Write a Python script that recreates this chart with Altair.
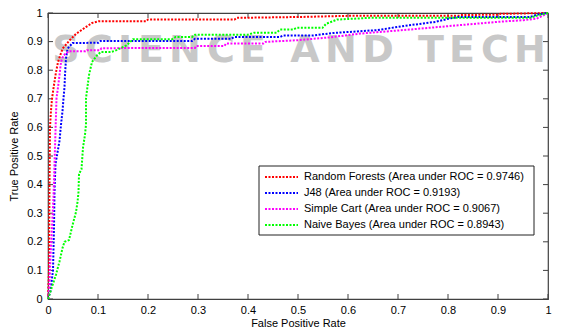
import altair as alt
import pandas as pd

FONT = "Liberation Sans"
BOX = "#404040"

series_names = [
    "Random Forests (Area under ROC = 0.9746)",
    "J48 (Area under ROC = 0.9193)",
    "Simple Cart (Area under ROC = 0.9067)",
    "Naive Bayes (Area under ROC = 0.8943)",
]
series_colors = ["#ff0000", "#0000ff", "#ff00ff", "#00ff00"]

rf_fpr = [0, .002, .003, .004, .006, .008, .011, .015, .020, .029, .043, .056, .075, .088, .101,
          .196, .200, .373, .378, .500, .600, .820, .825, .900, .905, 1.0]
rf_tpr = [0, .10, .40, .60, .66, .70, .737, .783, .829, .875, .904, .927, .950, .965, .971,
          .971, .977, .977, .983, .986, .990, .990, .993, .994, .997, 1.0]

j48_fpr = [0, .005, .010, .012, .013, .015, .023, .026, .029, .031, .033, .034, .036, .039, .049,
           .101, .105, .288, .294, .366, .372, .464, .470, .529, .569, .657, .722, .775, .801, .820,
           .964, .980, 1.0]
j48_tpr = [0, .028, .100, .250, .374, .472, .553, .610, .657, .702, .740, .783, .841, .875, .895,
           .896, .902, .902, .910, .910, .916, .916, .921, .921, .930, .940, .957, .969, .980, .986,
           .986, .995, 1.0]

cart_fpr = [0, .003, .005, .008, .011, .015, .017, .020, .023, .026, .031, .042, .075, .078, .104,
            .107, .294, .297, .353, .356, .431, .435, .500, .565, .624, .722, .820, .899, .951, .977, 1.0]
cart_tpr = [0, .05, .15, .25, .356, .588, .702, .74, .783, .829, .852, .866, .866, .870, .870,
            .877, .878, .885, .885, .893, .893, .899, .905, .915, .928, .942, .957, .969, .975, .98, 1.0]

nb_fpr = [0, .003, .016, .023, .029, .033, .042, .049, .056, .059, .061, .062, .067, .070, .074,
          .076, .076, .082, .088, .098, .106, .127, .137, .157, .170, .248, .255, .288, .294, .399,
          .412, .457, .464, .490, .497, .549, .556, .578, .643, .964, .980, 1.0]
nb_tpr = [0, .016, .085, .131, .178, .200, .206, .258, .304, .339, .374, .437, .454, .529, .575,
          .610, .702, .783, .829, .852, .864, .864, .870, .887, .908, .908, .916, .916, .924, .924,
          .931, .931, .942, .942, .948, .948, .962, .977, .983, .983, .992, 1.0]

ticks = [0, 0.1, 0.2, 0.3, 0.4, 0.5, 0.6, 0.7, 0.8, 0.9, 1.0]
tick_labels = ["0", "0.1", "0.2", "0.3", "0.4", "0.5", "0.6", "0.7", "0.8", "0.9", "1"]

# faint background watermark of the source page
wm_letters = list("SCIENCEANDTECH")
wm_x = [18, 51, 77, 103, 137, 173, 205, 257, 293, 330, 383, 414, 447, 482]

rows = []
for name, fs, ts in zip(series_names, [rf_fpr, j48_fpr, cart_fpr, nb_fpr],
                        [rf_tpr, j48_tpr, cart_tpr, nb_tpr]):
    for i, (f, t) in enumerate(zip(fs, ts)):
        rows.append({"series": name, "fpr": f, "tpr": t, "i": i})
df = pd.DataFrame(rows)
tick_df = pd.DataFrame({"t": ticks})
wm_df = pd.DataFrame({"ch": wm_letters, "px": wm_x})

# legend layout (pixels inside the plot area)
LEG_X0, LEG_X1, LEG_Y0, LEG_Y1 = 211, 486, 153, 222
SYM_X0, SYM_X1, TXT_X = 217, 250, 256
ROW0, ROW_STEP = 164, 16
leg_df = pd.DataFrame({"series": series_names,
                       "ly": [ROW0 + ROW_STEP * k for k in range(len(series_names))]})

label_expr = "[" + ",".join("'%s'" % s for s in tick_labels) + "][round(datum.value*10)]"

W, H = 500, 286
xs = alt.Scale(domain=[0, 1], nice=False, zero=False)
ys = alt.Scale(domain=[0, 1], nice=False, zero=False)
cs = alt.Scale(domain=series_names, range=series_colors)

common_axis = dict(values=ticks, labelExpr=label_expr, grid=False, ticks=False, domain=False,
                   labelFont=FONT, labelFontSize=11, labelColor="#000", titleFont=FONT,
                   titleFontSize=11, titleFontWeight="normal", titleColor="#000", labelFlush=False)
x_axis = alt.Axis(title="False Positive Rate", labelPadding=5, titlePadding=2, **common_axis)
y_axis = alt.Axis(title="True Positive Rate", labelPadding=6, titlePadding=7, **common_axis)

wm = alt.Chart(wm_df).mark_text(font="DejaVu Sans", fontSize=38, fontWeight="bold", color="#c8c8c8",
                                align="center", baseline="alphabetic").encode(
    text="ch:N", x=alt.X("px:Q", scale=None), y=alt.value(49))

lines = alt.Chart(df).mark_line(strokeWidth=2, strokeDash=[2, 1.5]).encode(
    x=alt.X("fpr:Q", scale=xs, axis=x_axis),
    y=alt.Y("tpr:Q", scale=ys, axis=y_axis),
    color=alt.Color("series:N", scale=cs, legend=None),
    order="i:Q",
)

tb = alt.Chart(tick_df).mark_rule(color=BOX, strokeWidth=1).encode(
    x=alt.X("t:Q", scale=xs, axis=x_axis), y=alt.value(H), y2=alt.value(H - 5))
tt = alt.Chart(tick_df).mark_rule(color=BOX, strokeWidth=1).encode(
    x=alt.X("t:Q", scale=xs, axis=x_axis), y=alt.value(0), y2=alt.value(5))
tl = alt.Chart(tick_df).mark_rule(color=BOX, strokeWidth=1).encode(
    y=alt.Y("t:Q", scale=ys, axis=y_axis), x=alt.value(0), x2=alt.value(5))
tr = alt.Chart(tick_df).mark_rule(color=BOX, strokeWidth=1).encode(
    y=alt.Y("t:Q", scale=ys, axis=y_axis), x=alt.value(W), x2=alt.value(W - 5))

leg_box = alt.Chart(pd.DataFrame({"a": [0]})).mark_rect(
    fill="#ffffff", stroke="#222222", strokeWidth=1).encode(
    x=alt.value(LEG_X0), x2=alt.value(LEG_X1), y=alt.value(LEG_Y0), y2=alt.value(LEG_Y1))
leg_sym = alt.Chart(leg_df).mark_rule(strokeWidth=2, strokeDash=[2, 1.5]).encode(
    x=alt.value(SYM_X0), x2=alt.value(SYM_X1), y=alt.Y("ly:Q", scale=None),
    color=alt.Color("series:N", scale=cs, legend=None))
leg_txt = alt.Chart(leg_df).mark_text(
    font=FONT, fontSize=11, color="#000", align="left", baseline="middle").encode(
    x=alt.value(TXT_X), y=alt.Y("ly:Q", scale=None), text="series:N")

chart = alt.layer(wm, tb, tt, tl, tr, lines, leg_box, leg_sym, leg_txt).properties(
    width=W, height=H,
    autosize=alt.AutoSizeParams(type="none"),
    padding={"left": 40, "top": 5, "right": 5, "bottom": 29},
    background="#ffffff",
).configure_view(stroke=BOX, strokeWidth=1.2)

chart.save("out.html", embed_options={"renderer": "svg", "actions": False})
